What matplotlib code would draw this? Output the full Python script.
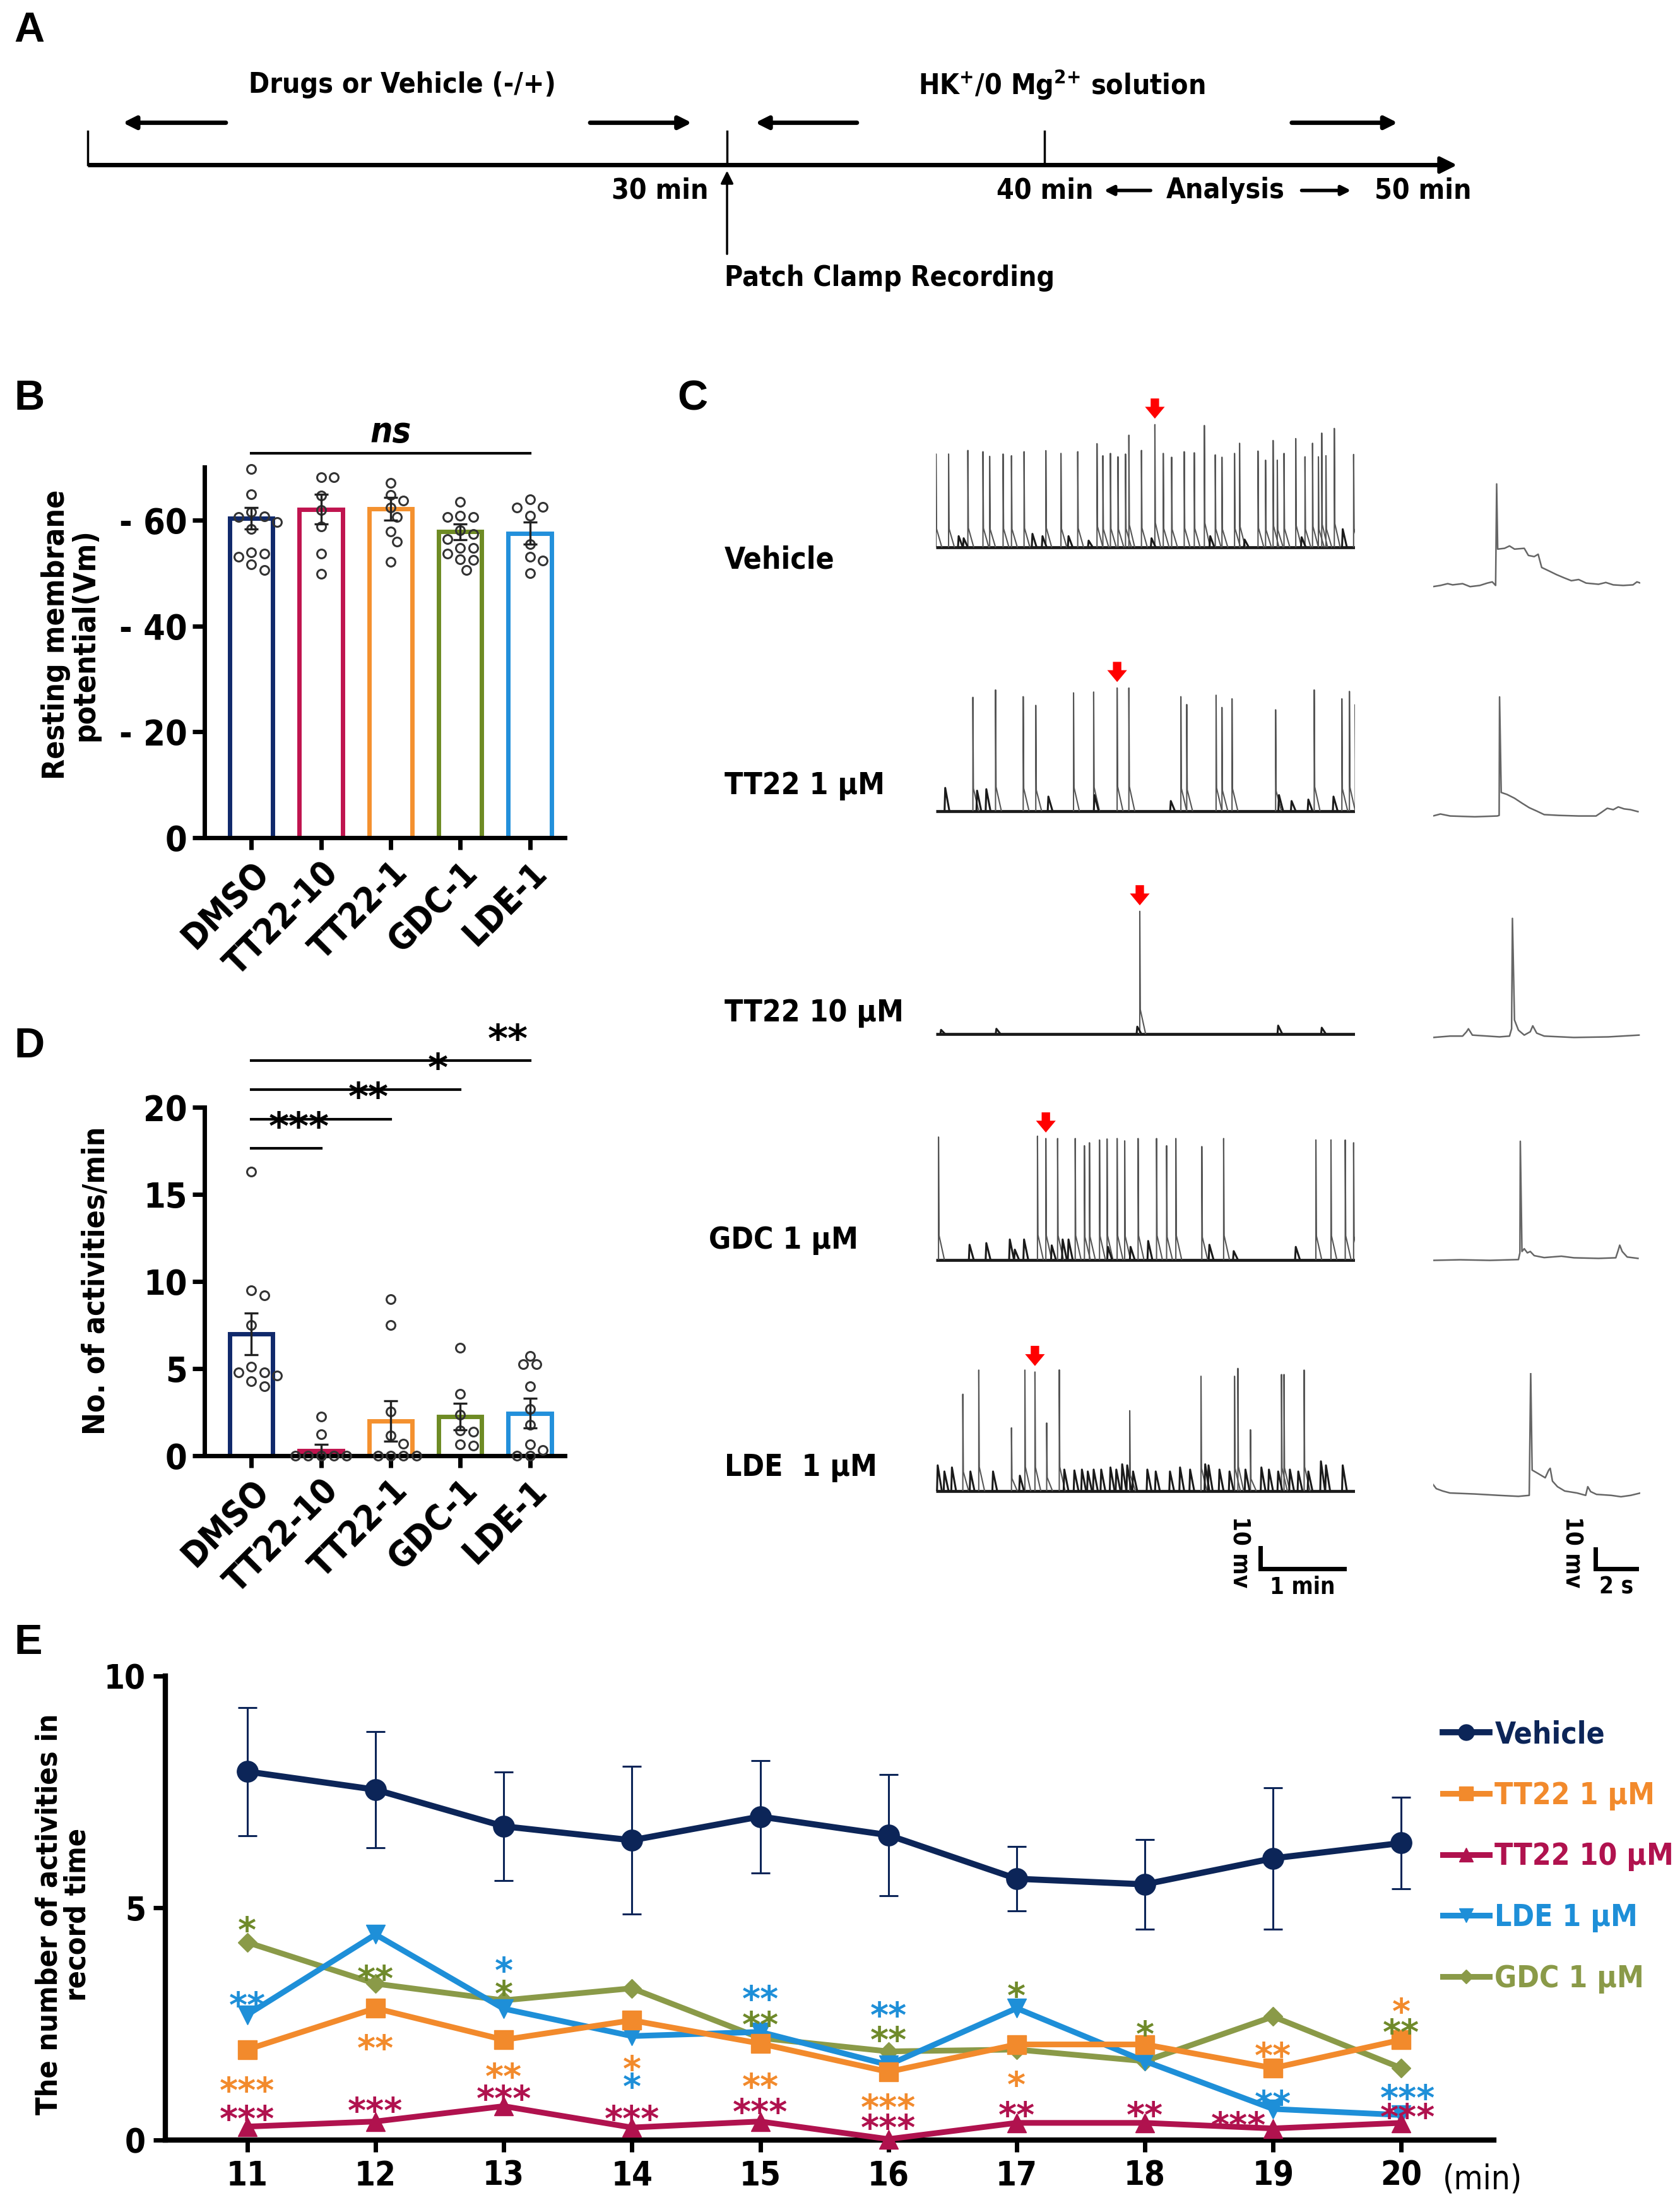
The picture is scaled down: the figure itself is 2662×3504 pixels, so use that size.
#!/usr/bin/env python3
"""Patch clamp figure: protocol, resting potential, traces, activity counts"""
import matplotlib
matplotlib.use('Agg')
import matplotlib.pyplot as plt
import numpy as np
from matplotlib import font_manager
from matplotlib.collections import LineCollection

# ---------------- data ----------------
groups = ['DMSO', 'TT22-10', 'TT22-1', 'GDC-1', 'LDE-1']
group_colors = ['#10296b', '#c0144f', '#f4912f', '#6e8b24', '#2390db']

rmp_mean = [60.3, 62.0, 62.1, 57.8, 57.5]
rmp_sem = [2.0, 2.8, 2.2, 1.5, 2.1]
rmp_points = [
    [69.6, 64.9, 61.5, 60.7, 60.5, 59.6, 58.3, 53.9, 53.7, 53.0, 51.6, 50.6],
    [68.1, 68.1, 64.6, 61.9, 58.8, 53.7, 49.8],
    [67.0, 64.7, 63.6, 62.3, 60.5, 57.8, 55.9, 52.1],
    [63.4, 60.8, 60.5, 60.5, 58.0, 57.3, 56.4, 54.7, 54.7, 53.7, 52.6, 52.5, 50.6],
    [63.9, 62.5, 62.3, 60.8, 55.4, 53.0, 52.3, 50.0],
]

act_mean = [7.0, 0.3, 2.0, 2.25, 2.45]
act_sem = [1.2, 0.35, 1.15, 0.75, 0.85]
act_points = [
    [16.3, 9.5, 9.2, 7.5, 5.1, 4.8, 4.8, 4.6, 4.3, 4.0],
    [2.25, 1.25, 0, 0, 0, 0, 0],
    [9.0, 7.5, 2.55, 1.15, 0.7, 0, 0, 0, 0],
    [6.2, 3.55, 2.35, 1.45, 1.4, 0.65, 0.6],
    [5.75, 5.25, 5.25, 4.0, 2.7, 1.8, 0.65, 0.35, 0, 0],
]
act_sig = ['***', '**', '*', '**']  # DMSO vs TT22-10, TT22-1, GDC-1, LDE-1

minutes = [11, 12, 13, 14, 15, 16, 17, 18, 19, 20]
vehicle = [7.94, 7.55, 6.76, 6.46, 6.97, 6.57, 5.63, 5.51, 6.07, 6.40]
vehicle_sem = [1.38, 1.25, 1.17, 1.59, 1.21, 1.30, 0.69, 0.97, 1.52, 0.99]
tt22_1 = [1.95, 2.84, 2.16, 2.58, 2.08, 1.47, 2.06, 2.06, 1.55, 2.16]
tt22_10 = [0.29, 0.40, 0.73, 0.27, 0.40, 0.02, 0.37, 0.37, 0.25, 0.37]
lde_1 = [2.70, 4.43, 2.83, 2.24, 2.33, 1.62, 2.84, 1.70, 0.67, 0.54]
gdc_1 = [4.26, 3.37, 3.01, 3.27, 2.20, 1.91, 1.95, 1.70, 2.66, 1.55]

# significance marks in E: (minute, series, stars, height)
sig_e = [
    (11, 'gdc', '*', 4.78), (11, 'lde', '**', 3.16), (11, 'tt1', '***', 1.33), (11, 'tt10', '***', 0.71),
    (12, 'gdc', '**', 3.74), (12, 'tt1', '**', 2.24), (12, 'tt10', '***', 0.89),
    (13, 'lde', '*', 3.91), (13, 'gdc', '*', 3.41), (13, 'tt1', '**', 1.62), (13, 'tt10', '***', 1.15),
    (14, 'tt1', '*', 1.79), (14, 'lde', '*', 1.41), (14, 'tt10', '***', 0.71),
    (15, 'lde', '**', 3.30), (15, 'gdc', '**', 2.74), (15, 'tt1', '**', 1.41), (15, 'tt10', '***', 0.87),
    (16, 'lde', '**', 2.95), (16, 'gdc', '**', 2.41), (16, 'tt1', '***', 0.96), (16, 'tt10', '***', 0.52),
    (17, 'gdc', '*', 3.37), (17, 'tt1', '*', 1.45), (17, 'tt10', '**', 0.79),
    (18, 'gdc', '*', 2.54), (18, 'tt10', '**', 0.79),
    (19, 'tt1', '**', 2.08), (19, 'lde', '**', 1.04), (18.73, 'tt10', '***', 0.58),
    (20, 'tt1', '*', 3.03), (20, 'gdc', '**', 2.58), (20.05, 'lde', '***', 1.16), (20.05, 'tt10', '***', 0.76),
]

# panel C: spike times (min) and amplitudes (mV) of each 5 min trace
trace_names = ['Vehicle', 'TT22 1 µM', 'TT22 10 µM', 'GDC 1 µM', 'LDE  1 µM']
spike_t = [
    [0.00, 0.15, 0.38, 0.56, 0.64, 0.80, 0.90, 1.05, 1.31, 1.49, 1.69, 1.92, 1.99, 2.08,
     2.17, 2.26, 2.30, 2.45, 2.61, 2.71, 2.81, 2.96, 3.08, 3.20, 3.33, 3.41, 3.56, 3.62,
     3.84, 3.93, 4.02, 4.07, 4.15, 4.29, 4.40, 4.49, 4.56, 4.60, 4.65, 4.75, 4.98],
    [0.44, 0.71, 1.04, 1.19, 1.64, 1.88, 2.16, 2.30, 2.92, 2.99, 3.34, 3.41, 3.53, 4.05,
     4.51, 4.84, 4.93, 5.00],
    [2.43],
    [0.03, 1.21, 1.31, 1.45, 1.66, 1.77, 1.83, 1.95, 2.04, 2.16, 2.25, 2.41, 2.63, 2.75,
     2.86, 3.17, 3.43, 4.53, 4.71, 4.88, 4.98],
    [0.32, 0.51, 0.90, 1.06, 1.18, 1.32, 1.47, 2.31, 3.16, 3.56, 3.60, 3.75, 4.12, 4.15, 4.39],
]
spike_a = [
    [44.1, 44.1, 45.8, 45.2, 43.0, 44.1, 43.3, 45.2, 45.7, 44.4, 45.2, 49.0, 43.3, 44.4,
     42.8, 44.1, 53.0, 45.8, 58.0, 44.4, 42.6, 45.2, 44.7, 57.6, 43.7, 42.6, 44.4, 49.2,
     45.5, 41.2, 50.5, 41.2, 44.4, 51.4, 42.8, 49.2, 42.8, 54.0, 43.3, 56.2, 43.9],
    [53.8, 57.3, 54.1, 50.0, 55.9, 56.3, 58.2, 58.2, 54.1, 50.4, 54.8, 49.0, 53.1, 47.9,
     57.3, 53.1, 56.6, 50.4],
    [58.0],
    [58.0, 58.4, 57.3, 57.3, 57.3, 53.9, 55.3, 56.6, 57.1, 57.3, 56.2, 57.3, 57.3, 53.9,
     57.3, 53.5, 57.3, 56.6, 56.6, 56.6, 55.3],
    [45.8, 57.2, 29.9, 57.2, 56.3, 32.2, 57.3, 38.0, 54.3, 54.3, 58.0, 29.0, 55.1, 55.1, 57.2],
]
small_t = [
    [0.27, 0.33, 1.15, 1.27, 1.58, 1.82, 2.57, 3.27, 3.68, 4.36, 4.85],
    [0.11, 0.49, 0.60, 1.34, 1.89, 2.80, 4.09, 4.24, 4.44, 4.74],
    [0.06, 0.72, 2.40, 4.08, 4.60],
    [0.40, 0.60, 0.88, 0.94, 1.05, 1.38, 1.51, 1.58, 2.05, 2.32, 2.53, 3.26, 3.55, 4.29],
    [0.02, 0.10, 0.19, 0.41, 0.68, 1.00, 1.53, 1.65, 1.74, 1.81, 1.88, 1.97, 2.08, 2.15,
     2.22, 2.28, 2.35, 2.52, 2.62, 2.79, 2.91, 3.03, 3.21, 3.25, 3.38, 3.50, 3.69, 3.88,
     3.97, 4.08, 4.22, 4.32, 4.44, 4.59, 4.65, 4.85],
]
small_a = [
    [5.3, 4.3, 6.4, 5.3, 5.3, 3.2, 4.3, 5.3, 3.7, 4.8, 8.6],
    [11.0, 9.7, 10.4, 6.9, 7.6, 4.8, 7.6, 4.8, 5.5, 6.9],
    [2.0, 2.5, 3.5, 4.0, 3.0],
    [7.1, 7.9, 9.6, 4.8, 9.6, 6.8, 9.6, 9.6, 6.1, 6.1, 8.9, 7.1, 4.1, 6.1],
    [12.2, 9.3, 11.2, 9.3, 9.3, 7.3, 10.2, 9.8, 10.2, 9.3, 10.2, 10.2, 11.2, 10.2,
     12.7, 12.2, 9.3, 10.2, 9.3, 9.3, 11.2, 10.2, 12.7, 12.2, 10.2, 9.3, 10.2, 11.2,
     10.2, 9.3, 10.2, 9.3, 9.3, 14.1, 12.2, 12.2],
]
arrow_t = [2.61, 2.16, 2.43, 1.31, 1.18]

# panel C insets: single event, time (s) and potential (mV)
inset_t = [
    [0, 0.36, 0.71, 0.95, 1.43, 1.79, 2.26, 2.62, 2.86, 3.02, 3.07, 3.12, 3.45, 3.69, 3.93,
     4.40, 4.60, 4.88, 5.07, 5.24, 5.60, 5.95, 6.31, 6.67, 7.02, 7.38, 7.98, 8.33, 8.69,
     9.17, 9.64, 9.83, 10.0],
    [0, 0.36, 0.83, 2.02, 3.10, 3.19, 3.21, 3.29, 3.57, 3.93, 4.29, 4.64, 5.0, 5.36, 6.07,
     7.02, 7.86, 8.10, 8.40, 8.69, 8.93, 9.21, 9.52, 9.88],
    [0, 0.83, 1.43, 1.62, 1.71, 1.90, 3.21, 3.69, 3.79, 3.83, 3.93, 4.12, 4.40, 4.69, 4.81,
     5.0, 5.36, 6.79, 8.45, 9.93],
    [0, 1.31, 2.74, 4.12, 4.19, 4.21, 4.29, 4.40, 4.55, 4.69, 4.88, 5.36, 5.71, 6.19, 6.79,
     7.98, 8.81, 8.93, 9.0, 9.12, 9.36, 9.88],
    [0, 0.16, 0.47, 0.82, 2.0, 3.18, 4.12, 4.64, 4.71, 4.78, 5.06, 5.41, 5.58, 5.65, 5.76,
     6.0, 6.35, 6.94, 7.36, 7.46, 7.60, 7.88, 8.59, 9.06, 9.53, 10.0],
]
inset_v = [
    [-0.6, 0, 0.9, 0.3, 0.9, -0.6, 0, 1.2, 1.8, 0, 51.4, 18.4, 18.8, 20.0, 18.4, 18.8, 15.2,
     14.6, 15.8, 9.1, 7.3, 5.5, 3.9, 2.4, 3.0, 1.2, 0.6, 1.5, 0.3, 0, 0.3, 1.8, 1.2],
    [-0.3, 0.7, -0.3, -0.7, -0.3, 0, 60.0, 11.6, 10.6, 8.7, 6.2, 3.9, 2.2, 0.4, 0, -0.3,
     -0.3, 1.4, 3.6, 2.9, 4.3, 3.3, 2.9, 1.9],
    [-0.3, 0.4, 0.4, 2.6, 4.1, 0.9, 0, 0.4, 4.1, 60.0, 8.5, 3.4, 0.9, 2.6, 5.6, 1.9, 0.4,
     -0.3, 0, 0.9],
    [-0.3, 0, -0.3, 0.1, 3.5, 60.0, 4.2, 5.6, 3.5, 4.2, 2.1, 1.1, 1.4, 1.8, 1.0, 0.7, 1.0,
     4.9, 7.4, 4.2, 1.4, 0.7],
    [5.6, 3.4, 2.2, 1.2, 0.7, 0, -0.5, 0, 63.0, 12.8, 11.1, 8.9, 12.8, 13.7, 7.2, 4.4, 2.2,
     1.2, 0, 4.4, 1.9, 0.5, 0, -0.7, 0, 1.2],
]
TRACE_MIN = 5.0
INSET_S = 10.0

# ---------------- fonts ----------------
# the figure uses a condensed bold sans; take one if the machine has it
fonts = font_manager.fontManager.ttflist
narrow = [f for f in fonts if 'Narrow' in f.name or 'Condensed' in f.name
          or str(f.stretch) in ('condensed', 'semi-condensed', 'extra-condensed')]
narrow.sort(key=lambda f: (f.name != 'Liberation Sans Narrow', f.name != 'DejaVu Sans'))
if narrow:
    NARROW, STRETCH = narrow[0].name, narrow[0].stretch
    F = 1.0 if NARROW == 'Liberation Sans Narrow' else 0.8
else:
    NARROW, STRETCH, F = 'Liberation Sans', 'normal', 0.84
plt.rcParams['font.family'] = [NARROW, 'DejaVu Sans']
plt.rcParams['font.stretch'] = STRETCH
plt.rcParams['font.weight'] = 'bold'
plt.rcParams['axes.labelweight'] = 'bold'
plt.rcParams['mathtext.fontset'] = 'custom'
plt.rcParams['mathtext.rm'] = NARROW + ':bold'
plt.rcParams['mathtext.bf'] = NARROW + ':bold'
plt.rcParams['mathtext.it'] = NARROW + ':bold:italic'

NAVY = '#0c2558'
ORANGE = '#f28a2c'
CRIMSON = '#b0124e'
BLUE = '#1e8fd8'
OLIVE = '#8a9a48'
sig_colors = {'tt1': ORANGE, 'tt10': CRIMSON, 'lde': BLUE, 'gdc': '#6f8a2a'}

W, H = 1190.0, 1568.0
fig = plt.figure(figsize=(26.62, 35.04), dpi=100)


def rect(x0, y0, x1, y1):
    return [x0 / W, 1 - y1 / H, (x1 - x0) / W, (y1 - y0) / H]


ov = fig.add_axes([0, 0, 1, 1])
ov.set_xlim(0, W)
ov.set_ylim(H, 0)
ov.axis('off')


def arrow(x0, y0, x1, y1, lw, ms):
    ov.annotate('', xy=(x1, y1), xytext=(x0, y0),
                arrowprops=dict(arrowstyle='-|>', color='k', lw=lw,
                                mutation_scale=ms, shrinkA=0, shrinkB=0))


# ---------------- panel letters ----------------
for letter, (lx, ly) in zip('ABCDE', [(10, 22), (10, 283), (480, 283), (10, 742), (10, 1165)]):
    ov.text(lx, ly, letter, fontsize=48, family='Liberation Sans', weight='bold',
            stretch='normal', ha='left', va='center')

# ---------------- panel A: protocol ----------------
ov.plot([62, 1020], [117, 117], color='k', lw=5, solid_capstyle='butt')
arrow(1010, 117, 1032, 117, 4, 40)
for xt in (62, 515, 740):
    ov.plot([xt, xt], [93, 117], color='k', lw=2.5)
arrow(515, 180, 515, 121, 2.5, 30)
arrow(160, 87, 87, 87, 5, 30)
arrow(418, 87, 490, 87, 5, 30)
arrow(607, 87, 535, 87, 5, 30)
arrow(915, 87, 990, 87, 5, 30)
arrow(815, 135, 782, 135, 4, 22)
arrow(922, 135, 957, 135, 4, 22)
ta = 40 * F
ov.text(285, 60, 'Drugs or Vehicle (-/+)', fontsize=ta, ha='center', va='center')
ov.text(752, 60, r'HK$^{+}$/0 Mg$^{2{+}}$ solution', fontsize=ta, ha='center', va='center')
ov.text(502, 135, '30 min', fontsize=ta, ha='right', va='center')
ov.text(740, 135, '40 min', fontsize=ta, ha='center', va='center')
ov.text(868, 135, 'Analysis', fontsize=ta, ha='center', va='center')
ov.text(1008, 135, '50 min', fontsize=ta, ha='center', va='center')
ov.text(513, 197, 'Patch Clamp Recording', fontsize=ta, ha='left', va='center')


# ---------------- helpers for dot plots ----------------
def swarm_offsets(vals, ux, uy, diam):
    placed, offs = [], []
    for v in vals:
        yp = v * uy
        xp = 0.0
        for k in [0, 1, -1, 2, -2, 3, -3, 4, -4]:
            xp = k * diam * 0.6
            if all((xp - a) ** 2 + (yp - b) ** 2 >= diam ** 2 for a, b in placed):
                break
        placed.append((xp, yp))
        offs.append(xp / ux)
    return offs


def style_bar_axes(ax):
    for s in ('top', 'right'):
        ax.spines[s].set_visible(False)
    for s in ('left', 'bottom'):
        ax.spines[s].set_linewidth(5)
    ax.tick_params(axis='both', width=5, length=14, labelsize=40, pad=6)
    ax.set_xticks(range(len(groups)))
    ax.set_xticklabels(groups, rotation=45, ha='right', va='top', rotation_mode='anchor')
    ax.set_xlim(-0.67, 4.5)
    ax.patch.set_alpha(0)


def bar_panel(ax, means, sems, points, uy):
    x = np.arange(len(groups))
    ax.bar(x, means, width=0.62, facecolor='white', edgecolor=group_colors,
           linewidth=5, zorder=2)
    for i, pts in enumerate(points):
        offs = swarm_offsets(pts, 49.3, uy, 7.6)
        ax.plot(x[i] + np.array(offs), pts, 'o', ms=10, mfc='none', mec='#333333',
                mew=2.2, zorder=4, clip_on=False)
    ax.errorbar(x, means, yerr=sems, fmt='none', ecolor='#222222', elinewidth=2.4,
                capsize=8, capthick=2.4, zorder=5)
    style_bar_axes(ax)


# ---------------- panel B ----------------
axB = fig.add_axes(rect(145, 331, 400, 594))
bar_panel(axB, rmp_mean, rmp_sem, rmp_points, 3.75)
axB.set_ylim(0, 70)
axB.set_yticks([0, 20, 40, 60])
axB.set_yticklabels(['0', '- 20', '- 40', '- 60'])
axB.plot([0, len(groups) - 1], [72.6, 72.6], color='k', lw=3, clip_on=False)
axB.text((len(groups) - 1) / 2, 73.3, 'ns', fontsize=40, style='italic',
         ha='center', va='bottom')
ov.text(50, 450, 'Resting membrane\npotential(Vm)', fontsize=43 * F, rotation=90,
        ha='center', va='center', linespacing=1.0)

# ---------------- panel D ----------------
axD = fig.add_axes(rect(145, 785, 400, 1032))
bar_panel(axD, act_mean, act_sem, act_points, 12.35)
axD.patches[1].set_facecolor(group_colors[1])
axD.set_ylim(0, 20)
axD.set_yticks([0, 5, 10, 15, 20])
for k, stars in enumerate(act_sig, start=1):
    yl = 17.65 + 1.68 * (k - 1)
    axD.plot([0, k], [yl, yl], color='k', lw=3, clip_on=False)
    axD.text(k - 0.32, yl + 0.05, stars, fontsize=44, family='DejaVu Sans',
             weight='bold', stretch='normal', ha='center', va='bottom')
ov.text(68, 908, 'No. of activities/min', fontsize=43 * F, rotation=90,
        ha='center', va='center')

# ---------------- panel C: traces ----------------
main_base = [388, 575, 733, 893, 1057]
inset_base = [415, 578, 735, 893, 1060]
label_pos = [(513, 397), (513, 557), (513, 718), (502, 879), (513, 1040)]
axes_main, axes_inset = [], []
for i in range(len(trace_names)):
    b = main_base[i]
    ax = fig.add_axes(rect(663, b - 62 * 1.5, 960, b + 40 * 1.5))
    ax.set_xlim(0, TRACE_MIN)
    ax.set_ylim(-40, 62)
    ax.axis('off')
    ax.hlines(0, 0, TRACE_MIN, color='#1a1a1a', lw=3.4)
    segs = [[(t, 0), (t, a), (t + 0.006, 0.2 * a), (t + 0.07, 0)]
            for t, a in zip(spike_t[i], spike_a[i])]
    ax.add_collection(LineCollection(segs, colors='#555555', linewidths=1.5))
    small = [[(t - 0.008, 0), (t, a), (t + 0.05, 0)]
             for t, a in zip(small_t[i], small_a[i])]
    ax.add_collection(LineCollection(small, colors='#1a1a1a', linewidths=2.2))
    ia = spike_a[i][int(np.argmin(np.abs(np.array(spike_t[i]) - arrow_t[i])))]
    ax.annotate('', xy=(arrow_t[i], ia + 2), xytext=(0, 27), textcoords='offset points',
                arrowprops=dict(arrowstyle='simple,head_length=0.45,head_width=0.75,tail_width=0.32',
                                color='#ff0000', lw=0, mutation_scale=30),
                annotation_clip=False)
    axes_main.append(ax)

    bi = inset_base[i]
    axi = fig.add_axes(rect(1015, bi - 62 * 1.4, 1162, bi + 40 * 1.4))
    axi.set_xlim(0, INSET_S)
    axi.set_ylim(-40, 62)
    axi.axis('off')
    axi.plot(inset_t[i], inset_v[i], color='#666666', lw=1.8)
    axes_inset.append(axi)

    lx, ly = label_pos[i]
    ov.text(lx, ly, trace_names[i], fontsize=43 * F, ha='left', va='center')

# scale bars
axm = axes_main[-1]
axm.plot([3.87, 3.87, 4.87], [-26.7, -36.7, -36.7], color='k', lw=5,
         solid_joinstyle='miter', clip_on=False)
axm.text(3.62, -28.7, '10 mv', fontsize=33 * F, rotation=-90, ha='center', va='center')
axm.text(4.37, -40, '1 min', fontsize=33 * F, ha='center', va='top')
axi = axes_inset[-1]
axi.plot([7.82, 7.82, 9.82], [-27.1, -37.1, -37.1], color='k', lw=5,
         solid_joinstyle='miter', clip_on=False)
axi.text(6.7, -28.6, '10 mv', fontsize=33 * F, rotation=-90, ha='center', va='center')
axi.text(8.84, -40.5, '2 s', fontsize=33 * F, ha='center', va='top')

# ---------------- panel E ----------------
axE = fig.add_axes(rect(117, 1188, 1058, 1517))
axE.patch.set_alpha(0)
veh = axE.errorbar(minutes, vehicle, yerr=vehicle_sem, color=NAVY, lw=7, marker='o',
                   ms=24, ecolor=NAVY, elinewidth=2.2, capsize=11, capthick=2.2,
                   zorder=6, clip_on=False)
l_tt1, = axE.plot(minutes, tt22_1, color=ORANGE, lw=6.5, marker='s', ms=21, zorder=4,
                  clip_on=False)
l_tt10, = axE.plot(minutes, tt22_10, color=CRIMSON, lw=6.5, marker='^', ms=21, zorder=5,
                   clip_on=False)
l_lde, = axE.plot(minutes, lde_1, color=BLUE, lw=6.5, marker='v', ms=21, zorder=3,
                  clip_on=False)
l_gdc, = axE.plot(minutes, gdc_1, color=OLIVE, lw=6.5, marker='D', ms=15, zorder=2,
                  clip_on=False)
for mx, key, stars, sy in sig_e:
    axE.annotate(stars, (mx, sy), xytext=(0, -27), textcoords='offset points',
                 fontsize=40, family='DejaVu Sans', weight='bold', stretch='normal',
                 color=sig_colors[key], ha='center', va='baseline', zorder=7)
axE.set_xlim(10.36, 20.72)
axE.set_ylim(0, 10)
axE.set_xticks(minutes)
axE.set_yticks([0, 5, 10])
for s in ('top', 'right'):
    axE.spines[s].set_visible(False)
for s in ('left', 'bottom'):
    axE.spines[s].set_linewidth(6)
axE.tick_params(axis='both', width=5, length=14, labelsize=38, pad=8)
ov.text(1050, 1545, '(min)', fontsize=38, weight='normal', ha='center', va='center')
ov.text(45, 1357, 'The number of activities in\nrecord time', fontsize=42 * F,
        rotation=90, ha='center', va='center', linespacing=1.0)

leg_fs = 43 * F
leg_colors = [NAVY, ORANGE, CRIMSON, BLUE, OLIVE]
leg = axE.legend([veh.lines[0], l_tt1, l_tt10, l_lde, l_gdc],
                 ['Vehicle', 'TT22 1 µM', 'TT22 10 µM', 'LDE 1 µM', 'GDC 1 µM'],
                 loc='upper left', bbox_to_anchor=(1022 / W, 1 - 1219 / H),
                 bbox_transform=fig.transFigure, frameon=False, fontsize=leg_fs,
                 handlelength=53 / leg_fs, handletextpad=0.18,
                 labelspacing=77 / leg_fs - 1.2,
                 borderpad=0, borderaxespad=0, markerscale=0.75)
for txt, c in zip(leg.get_texts(), leg_colors):
    txt.set_color(c)

fig.savefig('out.png', dpi=100)
